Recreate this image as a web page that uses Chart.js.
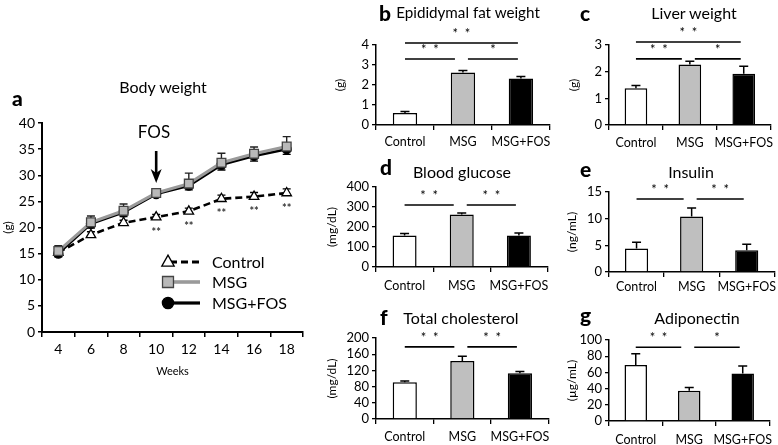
<!DOCTYPE html>
<html><head><meta charset="utf-8">
<script src="https://cdn.jsdelivr.net/npm/chart.js@4.4.1/dist/chart.umd.min.js"></script>
<style>
body{margin:0;background:#fff;}
#wrap{position:relative;width:778px;height:445px;overflow:hidden;font-family:Lato,sans-serif;color:#000;background:#fff}
canvas{position:absolute}
.t{position:absolute;white-space:nowrap;transform:translate(-50%,-50%);font-size:16px;line-height:1}
.l{position:absolute;white-space:nowrap;font-weight:900;font-size:21px;line-height:1;transform:translate(0,-50%)}
.lg{position:absolute;white-space:nowrap;font-size:16px;line-height:1;transform:translate(0,-50%)}
</style></head><body><div id="wrap">
<canvas id="ca" width="330" height="318" style="left:0;top:60px"></canvas>
<canvas id="cb" width="233" height="160" style="left:322px;top:0"></canvas>
<canvas id="cc" width="220" height="160" style="left:558px;top:0"></canvas>
<canvas id="cd" width="233" height="150" style="left:322px;top:150px"></canvas>
<canvas id="ce" width="220" height="150" style="left:558px;top:150px"></canvas>
<canvas id="cf" width="233" height="145" style="left:322px;top:300px"></canvas>
<canvas id="cg" width="220" height="145" style="left:558px;top:300px"></canvas>

<div class="l" style="left:12px;top:97px">a</div>
<div class="t" style="left:163px;top:87px">Body weight</div>
<div class="t" style="left:154px;top:131px;font-size:17px">FOS</div>
<div class="lg" style="left:212px;top:262px">Control</div>
<div class="lg" style="left:212px;top:282px">MSG</div>
<div class="lg" style="left:212px;top:303px">MSG+FOS</div>

<div class="l" style="left:379px;top:12px">b</div>
<div class="t" style="left:468px;top:13px;font-size:15.2px">Epididymal fat weight</div>
<div class="l" style="left:580px;top:12px">c</div>
<div class="t" style="left:694px;top:13px">Liver weight</div>
<div class="l" style="left:380px;top:166px">d</div>
<div class="t" style="left:462px;top:172px">Blood glucose</div>
<div class="l" style="left:580px;top:168px">e</div>
<div class="t" style="left:691px;top:172px">Insulin</div>
<div class="l" style="left:380px;top:316px">f</div>
<div class="t" style="left:461px;top:318px">Total cholesterol</div>
<div class="l" style="left:580px;top:314px">g</div>
<div class="t" style="left:697px;top:318px">Adiponectin</div>
</div>
<script>
// ---------- data ----------
const weeks = ['4','6','8','10','12','14','16','18'];
const controlBW = [15.2, 18.6, 20.9, 22.0, 23.1, 25.5, 25.9, 26.6];
const msgBW = [15.5, 21.0, 23.2, 26.6, 28.4, 32.4, 34.1, 35.5];
const msgFosBW = [15.0, 20.7, 22.9, 26.4, 28.0, 32.0, 33.7, 35.0];
const controlBWErr = [0.6, 0.6, 0.5, 0.5, 0.6, 0.7, 0.8, 0.8];
const msgBWErr = [1.0, 1.2, 1.3, 0.8, 2.0, 1.8, 1.3, 1.9];
const msgFosBWErr = [0.6, 0.8, 0.8, 0.6, 0.8, 1.0, 1.0, 1.0];
const bwSigWeeks = ['10', '12', '14', '16', '18'];
const fosWeek = '10';
const bwTicks = {min: 0, max: 40, step: 5};

const groups = ['Control', 'MSG', 'MSG+FOS'];
const fatWeight = [0.6, 2.62, 2.33];
const fatErr = [0.08, 0.1, 0.1];
const liverWeight = [1.38, 2.27, 1.92];
const liverErr = [0.1, 0.12, 0.28];
const bloodGlucose = [157, 262, 158];
const glucoseErr = [10, 8, 12];
const insulin = [4.4, 10.4, 4.1];
const insulinErr = [1.2, 1.6, 1.1];
const totalChol = [91, 143, 113];
const cholErr = [3, 12, 4];
const adiponectin = [69, 37.5, 58.5];
const adipoErr = [14, 4, 9.5];

// significance brackets: [fromGroup, toGroup, level (axis units), label]
const fatSig = [[0, 2, 4.1, '*  *'], [0, 1, 3.3, '*  *'], [1, 2, 3.3, '*']];
const liverSig = [[0, 2, 3.11, '*  *'], [0, 1, 2.48, '*  *'], [1, 2, 2.48, '*']];
const glucoseSig = [[0, 1, 310, '*  *'], [1, 2, 310, '*  *']];
const insulinSig = [[0, 1, 13.7, '*  *'], [1, 2, 13.7, '*  *']];
const cholSig = [[0, 1, 178, '*  *'], [1, 2, 178, '*  *']];
const adipoSig = [[0, 1, 91, '*  *'], [1, 2, 91, '*']];

// ---------- styling ----------
Chart.defaults.font.family = 'Lato, sans-serif';
Chart.defaults.color = '#000';
const barColors = ['#ffffff', '#bfbfbf', '#000000'];

const barPlugin = {
  id: 'barExtras',
  afterDatasetsDraw(chart, args, opts) {
    const ctx = chart.ctx, x = chart.scales.x, y = chart.scales.y;
    const ds = chart.data.datasets[0];
    const meta = chart.getDatasetMeta(0);
    ctx.save();
    ctx.strokeStyle = '#000'; ctx.lineWidth = 1.5;
    meta.data.forEach((bar, i) => {
      const y0 = y.getPixelForValue(ds.data[i]);
      const y1 = y.getPixelForValue(ds.data[i] + ds.errors[i]);
      ctx.beginPath();
      ctx.moveTo(bar.x, y0); ctx.lineTo(bar.x, y1);
      ctx.moveTo(bar.x - 4.5, y1); ctx.lineTo(bar.x + 4.5, y1);
      ctx.stroke();
    });
    ctx.lineWidth = 1.6;
    ctx.fillStyle = '#000';
    ctx.font = '13px Lato, sans-serif';
    ctx.textAlign = 'center'; ctx.textBaseline = 'middle';
    (opts.sigs || []).forEach(([a, b, lvl, txt]) => {
      const x1 = x.getPixelForValue(a) + (a === 1 ? 5 : 0);
      const x2 = x.getPixelForValue(b) - (b === 1 ? 8 : 3);
      const yy = y.getPixelForValue(lvl);
      ctx.beginPath(); ctx.moveTo(x1, yy); ctx.lineTo(x2, yy); ctx.stroke();
      ctx.fillText(txt, (x1 + x2) / 2, yy - 9);
    });
    ctx.restore();
  }
};

function barChart(id, vals, errs, max, step, unit, sigs, box) {
  new Chart(document.getElementById(id), {
    type: 'bar',
    data: {labels: groups, datasets: [{data: vals, errors: errs, backgroundColor: barColors,
      borderColor: '#000', borderWidth: 1.5, barPercentage: 0.42, categoryPercentage: 1}]},
    plugins: [barPlugin],
    options: {
      responsive: false, animation: false, events: [],
      layout: {padding: {top: box.top, right: box.right, left: 0, bottom: 0}},
      plugins: {legend: {display: false}, tooltip: {enabled: false}, barExtras: {sigs}},
      scales: {
        x: {offset: true,
          grid: {offset: true, drawOnChartArea: false, tickLength: 5, color: '#000', lineWidth: 1.3},
          border: {color: '#000', width: 1.5},
          ticks: {font: {size: 12.5}, color: '#000', padding: box.lp, maxRotation: 0, autoSkip: false},
          afterFit(s) { s.height = box.xh; }},
        y: {min: 0, max: max,
          grid: {drawOnChartArea: false, tickLength: 4, color: '#000', lineWidth: 1.3},
          border: {color: '#000', width: 1.5},
          ticks: {stepSize: step, font: {size: 13}, color: '#000', padding: 3, autoSkip: false},
          title: {display: true, text: unit, font: {size: 12}, color: '#000', padding: {top: box.tp, bottom: 0}},
          afterFit(s) { s.width = box.aw; }}
      }
    }
  });
}

barChart('cb', fatWeight, fatErr, 4, 1, '(g)', fatSig, {top: 45, right: 5, xh: 35, lp: 4, aw: 54, tp: 11});
barChart('cc', liverWeight, liverErr, 3, 1, '(g)', liverSig, {top: 45, right: 0, xh: 35, lp: 5, aw: 51, tp: 9});
barChart('cd', bloodGlucose, glucoseErr, 400, 100, '(mg/dL)', glucoseSig, {top: 37, right: 5, xh: 33, lp: 6, aw: 54, tp: 3});
barChart('ce', insulin, insulinErr, 15, 5, '(ng/mL)', insulinSig, {top: 42, right: 0, xh: 28, lp: 2, aw: 51, tp: 7});
barChart('cf', totalChol, cholErr, 200, 40, '(mg/dL)', cholSig, {top: 38, right: 5, xh: 26, lp: 5, aw: 54, tp: 3});
barChart('cg', adiponectin, adipoErr, 100, 20, '(\u00b5g/mL)', adipoSig, {top: 40, right: 0, xh: 24, lp: 6, aw: 51, tp: 7});

// ---------- body weight line chart ----------
const lineStyles = {
  control: {color: '#000', width: 2.6, dash: [7, 4], point: 'triangle', fill: '#fff', border: '#000', r: 5.5},
  msg: {color: '#9a9a9a', width: 3, dash: [], point: 'rect', fill: '#b9b9b9', border: '#444', r: 6.2},
  fos: {color: '#000', width: 2.6, dash: [], point: 'circle', fill: '#000', border: '#000', r: 4.5}
};

function drawMarker(ctx, st, x, y) {
  ctx.save();
  ctx.setLineDash([]);
  ctx.fillStyle = st.fill; ctx.strokeStyle = st.border; ctx.lineWidth = 1.3;
  ctx.beginPath();
  if (st.point === 'triangle') {
    const r = st.r;
    ctx.moveTo(x, y - r); ctx.lineTo(x + r * 0.9, y + r * 0.6); ctx.lineTo(x - r * 0.9, y + r * 0.6); ctx.closePath();
  } else if (st.point === 'rect') {
    const s = st.r * Math.SQRT1_2;
    ctx.rect(x - s, y - s, 2 * s, 2 * s);
  } else {
    ctx.arc(x, y, st.r, 0, Math.PI * 2);
  }
  ctx.fill(); ctx.stroke();
  ctx.restore();
}

const bwPlugin = {
  id: 'bwExtras',
  beforeDatasetsDraw(chart) {
    const ctx = chart.ctx, x = chart.scales.x, y = chart.scales.y;
    ctx.save(); ctx.lineWidth = 1.4;
    const err = (vals, errs, dir, color) => {
      ctx.strokeStyle = color;
      vals.forEach((v, i) => {
        const px = x.getPixelForValue(i);
        const y0 = y.getPixelForValue(v), y1 = y.getPixelForValue(v + dir * errs[i]);
        ctx.beginPath(); ctx.moveTo(px, y0); ctx.lineTo(px, y1);
        ctx.moveTo(px - 4, y1); ctx.lineTo(px + 4, y1); ctx.stroke();
      });
    };
    err(msgBW, msgBWErr, 1, '#222');
    err(msgFosBW, msgFosBWErr, -1, '#000');
    err(controlBW, controlBWErr, 1, '#000');
    ctx.restore();
  },
  afterDatasetsDraw(chart) {
    const ctx = chart.ctx, x = chart.scales.x, y = chart.scales.y;
    ctx.save();
    ctx.fillStyle = '#333'; ctx.font = 'bold 11px Lato, sans-serif';
    ctx.textAlign = 'center'; ctx.textBaseline = 'middle';
    bwSigWeeks.forEach(w => {
      const i = weeks.indexOf(w);
      ctx.fillText('**', x.getPixelForValue(i), y.getPixelForValue(controlBW[i]) + 15);
    });
    const fi = weeks.indexOf(fosWeek);
    const ax = x.getPixelForValue(fi);
    const tip = y.getPixelForValue(msgBW[fi]) - 10;
    ctx.strokeStyle = '#000'; ctx.fillStyle = '#000'; ctx.lineWidth = 2.6;
    ctx.beginPath(); ctx.moveTo(ax, tip - 32); ctx.lineTo(ax, tip - 8); ctx.stroke();
    ctx.beginPath(); ctx.moveTo(ax, tip); ctx.lineTo(ax - 5.5, tip - 14); ctx.lineTo(ax, tip - 10); ctx.lineTo(ax + 5.5, tip - 14); ctx.closePath(); ctx.fill();
    const rows = [['control', 202], ['msg', 222], ['fos', 243]];
    rows.forEach(([k, yy]) => {
      const st = lineStyles[k];
      ctx.save();
      ctx.strokeStyle = st.color; ctx.lineWidth = st.width + 0.6; ctx.setLineDash(st.dash);
      ctx.beginPath(); ctx.moveTo(170, yy); ctx.lineTo(200, yy); ctx.stroke();
      ctx.restore();
      drawMarker(ctx, Object.assign({}, st, {r: st.r * 1.25}), 168, yy);
    });
    ctx.restore();
  }
};

function lineDs(label, data, st, order) {
  return {label, data, borderColor: st.color, borderWidth: st.width, borderDash: st.dash,
    pointStyle: st.point, pointRadius: st.r, pointBackgroundColor: st.fill, pointBorderColor: st.border,
    pointBorderWidth: 1.3, fill: false, tension: 0, order};
}

new Chart(document.getElementById('ca'), {
  type: 'line',
  data: {labels: weeks, datasets: [
    lineDs('Control', controlBW, lineStyles.control, 2),
    lineDs('MSG+FOS', msgFosBW, lineStyles.fos, 1),
    lineDs('MSG', msgBW, lineStyles.msg, 0)
  ]},
  plugins: [bwPlugin],
  options: {
    responsive: false, animation: false, events: [],
    layout: {padding: {top: 63, right: 27, left: 0, bottom: 0}},
    plugins: {legend: {display: false}, tooltip: {enabled: false}},
    scales: {
      x: {offset: true,
        grid: {offset: true, drawOnChartArea: false, tickLength: 5, color: '#000', lineWidth: 1.5},
        border: {color: '#000', width: 2},
        ticks: {font: {size: 14}, color: '#000', padding: 4, autoSkip: false},
        title: {display: true, text: 'Weeks', font: {size: 11}, color: '#000', padding: {top: 0, bottom: 0}},
        afterFit(s) { s.height = 46; }},
      y: {min: bwTicks.min, max: bwTicks.max,
        grid: {drawOnChartArea: false, tickLength: 4, color: '#000', lineWidth: 1.5},
        border: {color: '#000', width: 2},
        ticks: {stepSize: bwTicks.step, font: {size: 14}, color: '#000', padding: 3, autoSkip: false},
        title: {display: true, text: '(g)', font: {size: 12}, color: '#000', padding: {top: 1, bottom: 0}},
        afterFit(s) { s.width = 42; }}
    }
  }
});
</script></body></html>
